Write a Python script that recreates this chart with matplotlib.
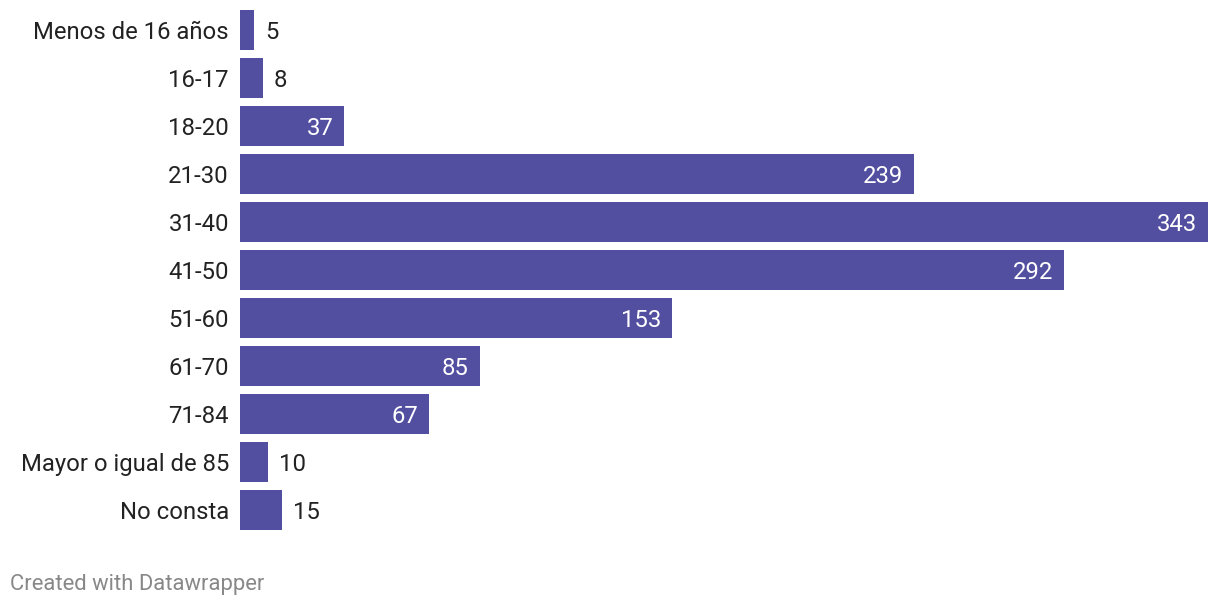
import matplotlib
matplotlib.use("Agg")
import matplotlib.pyplot as plt
from matplotlib.transforms import offset_copy

categories = ["Menos de 16 años", "16-17", "18-20", "21-30", "31-40", "41-50",
              "51-60", "61-70", "71-84", "Mayor o igual de 85", "No consta"]
values = [5, 8, 37, 239, 343, 292, 153, 85, 67, 10, 15]

plt.rcParams['font.family'] = ['Roboto', 'DejaVu Sans']

W, H = 1220, 606
fig = plt.figure(figsize=(W/100, H/100), dpi=100)
left, right = 240, 1208
top, bottom = 6, 534
ax = fig.add_axes([left/W, 1 - bottom/H, (right-left)/W, (bottom-top)/H])

bar_color = "#524ea0"
ypos = list(range(len(categories)))
ax.barh(ypos, values, height=40/48, color=bar_color)
ax.set_xlim(0, max(values))
ax.set_ylim(len(categories) - 0.5, -0.5)

fs = 17.2
for s in ax.spines.values():
    s.set_visible(False)
ax.set_xticks([])
ax.set_yticks(ypos)
ax.set_yticklabels(categories, fontsize=fs, color="#222222")
ax.tick_params(axis='y', length=0, pad=8)

for y, v in zip(ypos, values):
    if v >= 30:
        ax.text(v, y, str(v), ha='right', va='center_baseline', fontsize=fs, color='white',
                transform=offset_copy(ax.transData, fig=fig, x=-11, y=0, units='dots'))
    else:
        ax.text(v, y, str(v), ha='left', va='center_baseline', fontsize=fs, color='#222222',
                transform=offset_copy(ax.transData, fig=fig, x=11, y=0, units='dots'))

fig.text(10/W, 1 - 582/H, "Created with Datawrapper", fontsize=15.8, color="#888888",
         ha='left', va='center_baseline')

fig.savefig("out.png", dpi=100)
